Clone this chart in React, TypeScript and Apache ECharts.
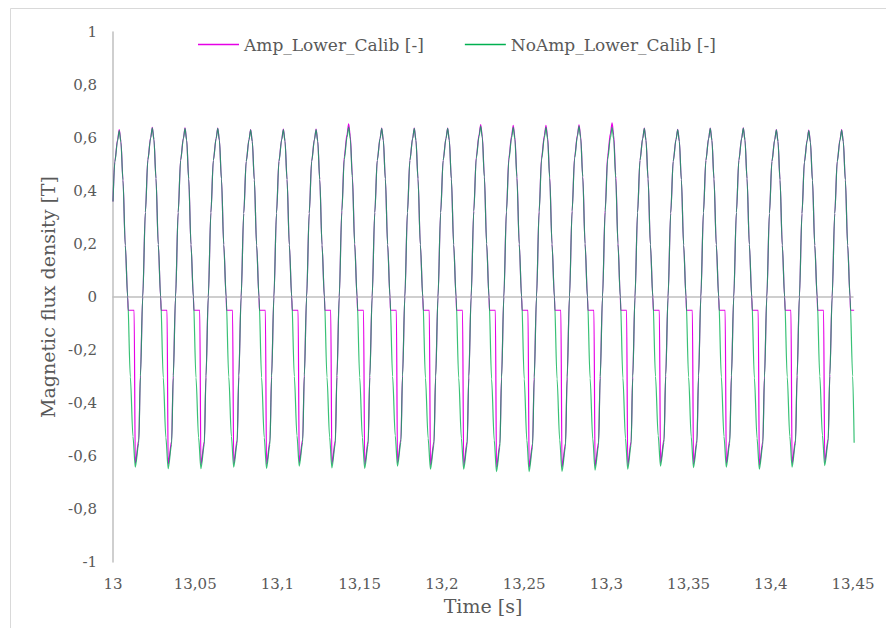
import { useEffect, useRef } from "react";
import * as echarts from "echarts";

// Peak instants of each cycle (s)
const peakTimes = [
  13.0038, 13.0239, 13.0438, 13.0637, 13.0837, 13.1036, 13.1235, 13.1433,
  13.1634, 13.1832, 13.2035, 13.2236, 13.2434, 13.2633, 13.2834, 13.3035,
  13.3231, 13.3434, 13.3632, 13.3833, 13.4034, 13.4231, 13.4431,
];
// Positive peak of each cycle (T)
const noAmpPeaks = [
  0.628, 0.638, 0.636, 0.636, 0.631, 0.632, 0.632, 0.641, 0.636, 0.636, 0.636,
  0.645, 0.64, 0.64, 0.645, 0.64, 0.636, 0.632, 0.636, 0.637, 0.631, 0.628, 0.63,
];
const ampPeaks = [
  0.632, 0.64, 0.638, 0.637, 0.632, 0.634, 0.634, 0.653, 0.637, 0.637, 0.637,
  0.651, 0.648, 0.648, 0.65, 0.657, 0.637, 0.633, 0.637, 0.638, 0.632, 0.63, 0.632,
];
// Negative peak after each positive peak (T)
const noAmpTroughs = [
  -0.642, -0.648, -0.648, -0.642, -0.647, -0.638, -0.645, -0.647, -0.638, -0.65,
  -0.65, -0.659, -0.659, -0.658, -0.653, -0.65, -0.638, -0.644, -0.642, -0.65,
  -0.642, -0.636,
];
const ampTroughs = [
  -0.628, -0.632, -0.633, -0.628, -0.632, -0.625, -0.63, -0.632, -0.625, -0.635,
  -0.635, -0.643, -0.643, -0.642, -0.638, -0.635, -0.625, -0.63, -0.628, -0.635,
  -0.628, -0.622,
];

// One cycle's shape, read from a single period (ms after the peak, fraction of peak / trough)
const cycleMs = 20;
const noAmpFallMs = [1.0, 2.25, 3.65, 5.1, 6.7, 8.3, 9.7];
const noAmpFallShape: (number | null)[] = [0.93, 0.7, 0.31, 0, -0.47, -0.82, -1];
const ampFallMs = [1.0, 2.25, 3.65, 5.1, 5.4, 9.0, 9.7];
const ampFallShape: (number | null)[] = [0.93, 0.7, 0.31, 0, null, null, -1];
const ampDeadLevel = -0.05;
const riseMs = [11.8, 12.8, 14.2, 15.8, 17.3, 19.0];
const riseShape = [-0.86, -0.47, 0, 0.5, 0.81, 0.94];

const startTime = 13.0;
const startValue = 0.36;
const endTime = 13.4507;
const noAmpEnd = -0.55;
const ampEnd = -0.05;

const seriesNames = ["Amp_Lower_Calib [-]", "NoAmp_Lower_Calib [-]"];

const shapeValue = (s: number, pk: number, tr: number) => (s >= 0 ? s * pk : -s * tr);

function buildWave(
  peaks: number[],
  troughs: number[],
  fallMs: number[],
  fallShape: (number | null)[],
  endValue: number
): number[][] {
  const pts: number[][] = [[startTime, startValue]];
  const n = peakTimes.length;
  const firstScale = (peakTimes[1] - peakTimes[0]) / cycleMs;
  riseMs.forEach((ms, j) => {
    const t = peakTimes[0] + (ms - cycleMs) * firstScale;
    if (t > startTime && riseShape[j] >= 0) pts.push([t, riseShape[j] * peaks[0]]);
  });
  let done = false;
  for (let i = 0; i < n && !done; i++) {
    const P = peakTimes[i];
    const period = i + 1 < n ? peakTimes[i + 1] - P : peakTimes[i] - peakTimes[i - 1];
    const scale = period / cycleMs;
    const tr = troughs[Math.min(i, troughs.length - 1)];
    pts.push([P, peaks[i]]);
    for (let j = 0; j < fallMs.length; j++) {
      const t = P + fallMs[j] * scale;
      if (t >= endTime) { done = true; break; }
      const s = fallShape[j];
      pts.push([t, s === null ? ampDeadLevel : shapeValue(s, peaks[i], tr)]);
    }
    if (done || i + 1 >= n) break;
    for (let j = 0; j < riseMs.length; j++) {
      const t = P + riseMs[j] * scale;
      pts.push([t, shapeValue(riseShape[j], peaks[i + 1], tr)]);
    }
  }
  pts.push([endTime, endValue]);
  return pts;
}

const fmt = (v: number) => String(Number(v.toFixed(2))).replace(".", ",");

export default function App() {
  const ref = useRef<HTMLDivElement>(null);
  useEffect(() => {
    if (!ref.current) return;
    const chart = echarts.init(ref.current, null, { renderer: "svg" });
    const font = "DejaVu Serif";
    const textColor = "#595959";
    const ampData = buildWave(ampPeaks, ampTroughs, ampFallMs, ampFallShape, ampEnd);
    const noAmpData = buildWave(noAmpPeaks, noAmpTroughs, noAmpFallMs, noAmpFallShape, noAmpEnd);
    chart.setOption({
      animation: false,
      backgroundColor: "#ffffff",
      textStyle: { fontFamily: font, color: textColor },
      graphic: [
        {
          type: "rect",
          shape: { x: 10.5, y: 8.5, width: 900, height: 700 },
          style: { fill: "none", stroke: "#D9D9D9", lineWidth: 1 },
          silent: true,
        },
      ],
      legend: {
        left: 193,
        top: 31,
        icon: "rect",
        itemWidth: 41,
        itemHeight: 1.5,
        itemGap: 41,
        textStyle: { fontFamily: font, fontSize: 17, color: textColor },
        data: seriesNames,
      },
      grid: { left: 113, right: 33, top: 32, bottom: 66 },
      xAxis: [
        {
          type: "value",
          min: 13,
          max: 13.45,
          interval: 0.05,
          name: "Time [s]",
          nameLocation: "middle",
          nameGap: 34,
          nameTextStyle: { fontFamily: font, fontSize: 19, color: textColor },
          axisLine: { show: false, onZero: false },
          axisTick: { show: false },
          splitLine: { show: false },
          axisLabel: {
            margin: 14,
            fontFamily: font,
            fontSize: 15,
            color: textColor,
            formatter: (v: number) => fmt(v),
          },
        },
        {
          type: "value",
          position: "top",
          min: 13,
          max: 13.45,
          interval: 0.05,
          axisLine: { show: true, onZero: true, lineStyle: { color: "#BFBFBF", width: 1.5 } },
          axisTick: { show: false },
          axisLabel: { show: false },
          splitLine: { show: false },
        },
      ],
      yAxis: {
        type: "value",
        min: -1,
        max: 1,
        interval: 0.2,
        name: "Magnetic flux density [T]",
        nameLocation: "middle",
        nameGap: 54,
        nameTextStyle: { fontFamily: font, fontSize: 19, color: textColor },
        axisLine: { show: true, onZero: false, lineStyle: { color: "#BFBFBF", width: 1.5 } },
        axisTick: { show: false },
        splitLine: { show: false },
        axisLabel: {
          margin: 16,
          fontFamily: font,
          fontSize: 15,
          color: textColor,
          formatter: (v: number) => fmt(v),
        },
      },
      series: [
        {
          name: seriesNames[0],
          type: "line",
          xAxisIndex: 0,
          data: ampData,
          symbol: "none",
          smooth: 0.3,
          smoothMonotone: "x",
          clip: false,
          color: "#E600E6",
          lineStyle: { color: "#E600E6", width: 1.2 },
        },
        {
          name: seriesNames[1],
          type: "line",
          xAxisIndex: 0,
          data: noAmpData,
          symbol: "none",
          smooth: 0.3,
          smoothMonotone: "x",
          clip: false,
          color: "#00B050",
          lineStyle: { color: "#00B050", width: 1.2, opacity: 0.78 },
        },
      ],
    });
    return () => chart.dispose();
  }, []);
  return (
    <div
      ref={ref}
      style={{ position: "fixed", left: 0, top: 0, width: 886, height: 628, background: "#fff" }}
    />
  );
}
